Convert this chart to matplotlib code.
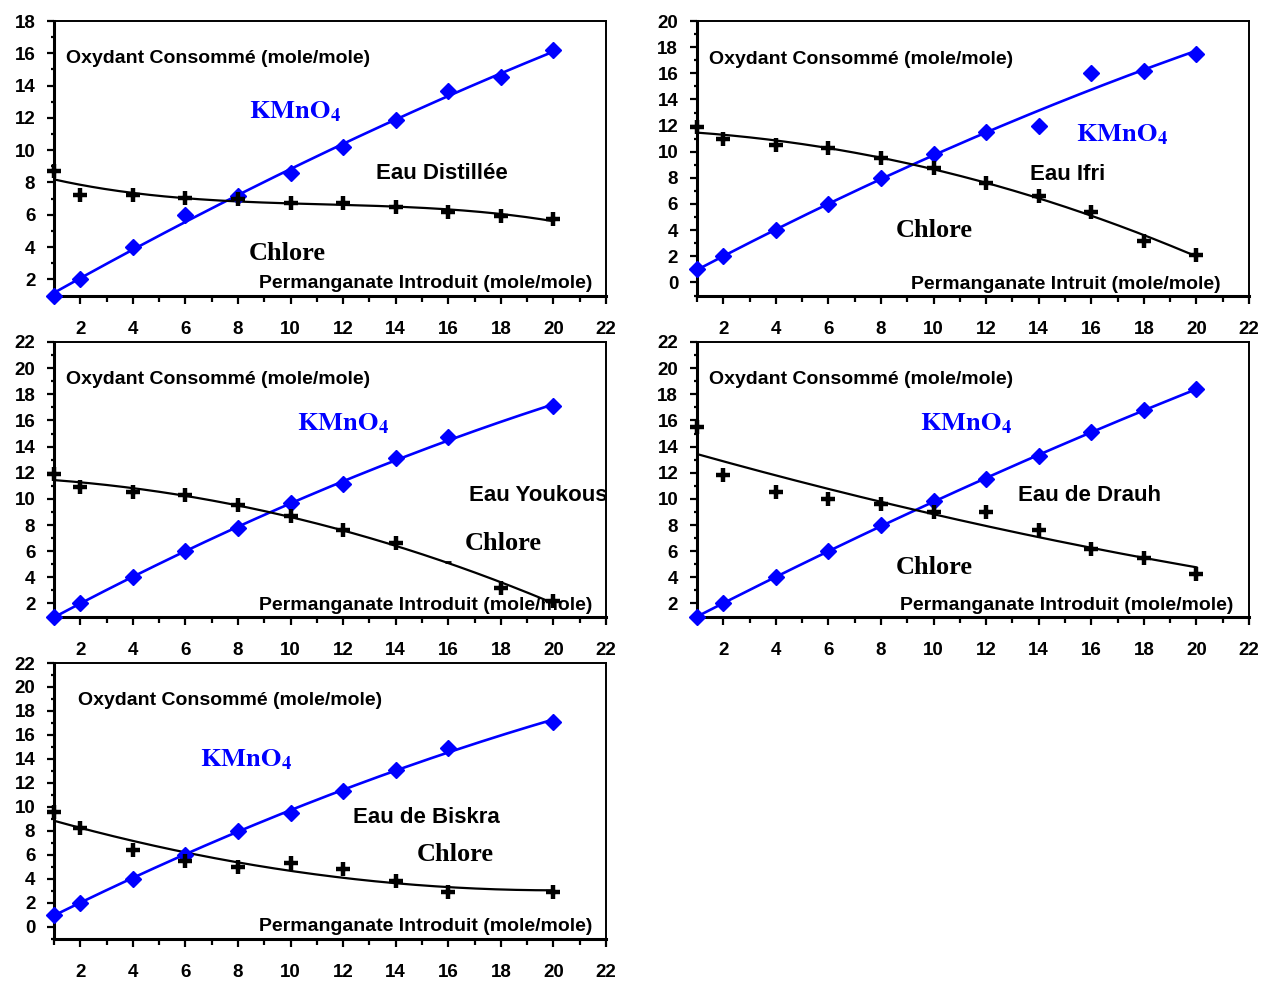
import numpy as np
import matplotlib
matplotlib.use("Agg")
import matplotlib.pyplot as plt
from matplotlib.ticker import MultipleLocator

plt.rcParams['mathtext.fontset'] = 'stix'

SANS = 'Liberation Sans'
SERIF = 'Liberation Serif'
BLUE = '#0000FF'

# ---- data : permanganate introduced (mole/mole) vs oxidant consumed ----
x_all = [1, 2, 4, 6, 8, 10, 12, 14, 16, 18, 20]
x_no18 = [1, 2, 4, 6, 8, 10, 12, 14, 16, 20]

# Eau Distillée
dist_kmno4 = [1.0, 2.0, 4.0, 6.0, 7.15, 8.6, 10.2, 11.85, 13.65, 14.55, 16.2]
dist_chlore = [8.7, 7.25, 7.25, 7.05, 7.0, 6.75, 6.75, 6.45, 6.2, 5.9, 5.75]

# Eau Ifri
ifri_kmno4 = [1.0, 2.0, 4.0, 6.0, 8.0, 9.85, 11.5, 12.0, 16.0, 16.2, 17.5]
ifri_chlore = [11.9, 11.0, 10.55, 10.3, 9.5, 8.75, 7.6, 6.6, 5.4, 3.15, 2.1]

# Eau Youkous
youk_kmno4 = [1.0, 2.0, 4.0, 6.0, 7.8, 9.7, 11.1, 13.1, 14.7, 17.1]
youk_chlore = [11.9, 10.9, 10.5, 10.3, 9.5, 8.7, 7.6, 6.6, 5.2, 3.15, 2.2]

# Eau de Drauh
drauh_kmno4 = [1.0, 2.0, 4.0, 6.0, 8.0, 9.85, 11.5, 13.3, 15.1, 16.8, 18.4]
drauh_chlore = [15.5, 11.8, 10.5, 10.0, 9.6, 9.0, 9.0, 7.6, 6.2, 5.5, 4.25]

# Eau de Biskra
bisk_kmno4 = [1.0, 2.0, 4.0, 6.0, 8.0, 9.5, 11.3, 13.1, 14.9, 17.1]
bisk_chlore = [9.6, 8.2, 6.4, 5.5, 5.0, 5.3, 4.8, 3.8, 2.9, 2.9]

panels = [
    dict(name='Eau Distillée', kx=x_all, k=dist_kmno4, cx=x_all, c=dist_chlore,
         kdeg=2, cdeg=3, ylim=(1, 18), yticks=(2, 18),
         rect=[54, 21, 606, 295.5], xlab='Permanganate Introduit (mole/mole)',
         oxy=(0.022, 0.846), kpos=(0.353, 0.646), npos=(0.584, 0.424),
         cpos=(0.353, 0.128), ppos=(0.975, 0.026)),
    dict(name='Eau Ifri', kx=x_all, k=ifri_kmno4, cx=x_all, c=ifri_chlore,
         kdeg=2, cdeg=2, ylim=(-1, 20), yticks=(0, 20),
         rect=[697, 21, 1249, 295.5], xlab='Permanganate Intruit (mole/mole)',
         oxy=(0.022, 0.845), kpos=(0.687, 0.561), npos=(0.603, 0.422),
         cpos=(0.36, 0.213), ppos=(0.949, 0.022)),
    dict(name='Eau Youkous', kx=x_no18, k=youk_kmno4, cx=x_all, c=youk_chlore,
         kdeg=2, cdeg=2, ylim=(1, 22), yticks=(2, 22),
         rect=[54, 342, 606, 616.5], xlab='Permanganate Introduit (mole/mole)',
         oxy=(0.022, 0.846), kpos=(0.44, 0.679), npos=(0.751, 0.421),
         cpos=(0.745, 0.242), ppos=(0.975, 0.022), faint=16),
    dict(name='Eau de Drauh', kx=x_all, k=drauh_kmno4, cx=x_all, c=drauh_chlore,
         kdeg=2, cdeg=2, ylim=(1, 22), yticks=(2, 22),
         rect=[697, 342, 1249, 616.5], xlab='Permanganate Introduit (mole/mole)',
         oxy=(0.022, 0.846), kpos=(0.404, 0.679), npos=(0.582, 0.421),
         cpos=(0.36, 0.155), ppos=(0.971, 0.022)),
    dict(name='Eau de Biskra', kx=x_no18, k=bisk_kmno4, cx=x_no18, c=bisk_chlore,
         kdeg=2, cdeg=2, ylim=(-1, 22), yticks=(0, 22),
         rect=[54, 663, 606, 938.5], xlab='Permanganate Introduit (mole/mole)',
         oxy=(0.044, 0.846), kpos=(0.265, 0.626), npos=(0.542, 0.419),
         cpos=(0.658, 0.281), ppos=(0.975, 0.026)),
]

W, H = 1265, 981
fig = plt.figure(figsize=(W / 100, H / 100), dpi=100)
fig.patch.set_facecolor('white')


def trend(ax, xs, ys, deg, **kw):
    coef = np.polyfit(xs, ys, deg)
    xx = np.linspace(min(xs), max(xs), 200)
    ax.plot(xx, np.polyval(coef, xx), **kw)


for p in panels:
    l, t, r, b = p['rect']
    ax = fig.add_axes([l / W, (H - b) / H, (r - l) / W, (b - t) / H])
    ax.set_xlim(1, 22)
    ax.set_ylim(*p['ylim'])

    # fitted curves
    trend(ax, p['kx'], p['k'], p['kdeg'], color=BLUE, lw=1.9, zorder=3)
    trend(ax, p['cx'], p['c'], p['cdeg'], color='black', lw=1.6, zorder=3)

    # measured points
    ax.plot(p['kx'], p['k'], ls='none', marker='D', ms=8, color=BLUE,
            mec=BLUE, zorder=4, clip_on=False)
    cx = np.array(p['cx'], dtype=float)
    cy = np.array(p['c'], dtype=float)
    faint = p.get('faint')
    full = np.ones(len(cx), dtype=bool)
    if faint is not None:
        full = cx != faint
        ax.plot(cx[~full], cy[~full], ls='none', marker='_', ms=5, mew=2,
                color='black', zorder=4)
    ax.plot(cx[full], cy[full], ls='none', marker='+', ms=10.5, mew=3.2,
            color='black', zorder=4, clip_on=False)

    # axes styling
    ax.xaxis.set_major_locator(MultipleLocator(2))
    ax.xaxis.set_minor_locator(MultipleLocator(1))
    y0, y1 = p['yticks']
    ax.set_yticks(np.arange(y0, y1 + 1, 2))
    ax.yaxis.set_minor_locator(MultipleLocator(1))
    ax.tick_params(axis='x', which='major', direction='out', length=6,
                   width=1.6, pad=12.5, labelsize=13.5)
    ax.tick_params(axis='x', which='minor', direction='out', length=4,
                   width=1.6)
    ax.tick_params(axis='y', which='major', direction='out', length=5,
                   width=1.6, pad=8.5, labelsize=13.5)
    ax.tick_params(axis='y', which='minor', direction='out', length=2.5,
                   width=1.6)
    for lab in ax.get_xticklabels() + ax.get_yticklabels():
        lab.set_fontfamily(SANS)
        lab.set_fontweight('bold')
    for side in ('left', 'bottom'):
        ax.spines[side].set_linewidth(2.2)
    for side in ('top', 'right'):
        ax.spines[side].set_linewidth(1.4)

    # annotations
    ax.text(*p['oxy'], 'Oxydant Consommé (mole/mole)', transform=ax.transAxes,
            ha='left', va='baseline', fontsize=14, fontweight='bold',
            family=SANS, zorder=5)
    ax.text(*p['kpos'], r'$\mathbf{KMnO_4}$', transform=ax.transAxes,
            ha='left', va='baseline', fontsize=19, color=BLUE, zorder=5)
    ax.text(*p['npos'], p['name'], transform=ax.transAxes, ha='left',
            va='baseline', fontsize=16, fontweight='bold', family=SANS,
            zorder=5, clip_on=False)
    ax.text(*p['cpos'], 'Chlore', transform=ax.transAxes, ha='left',
            va='baseline', fontsize=19, fontweight='bold', family=SERIF,
            zorder=5)
    ax.text(*p['ppos'], p['xlab'], transform=ax.transAxes, ha='right',
            va='baseline', fontsize=14, fontweight='bold', family=SANS,
            zorder=5)

fig.savefig('out.png', dpi=100, facecolor='white')
